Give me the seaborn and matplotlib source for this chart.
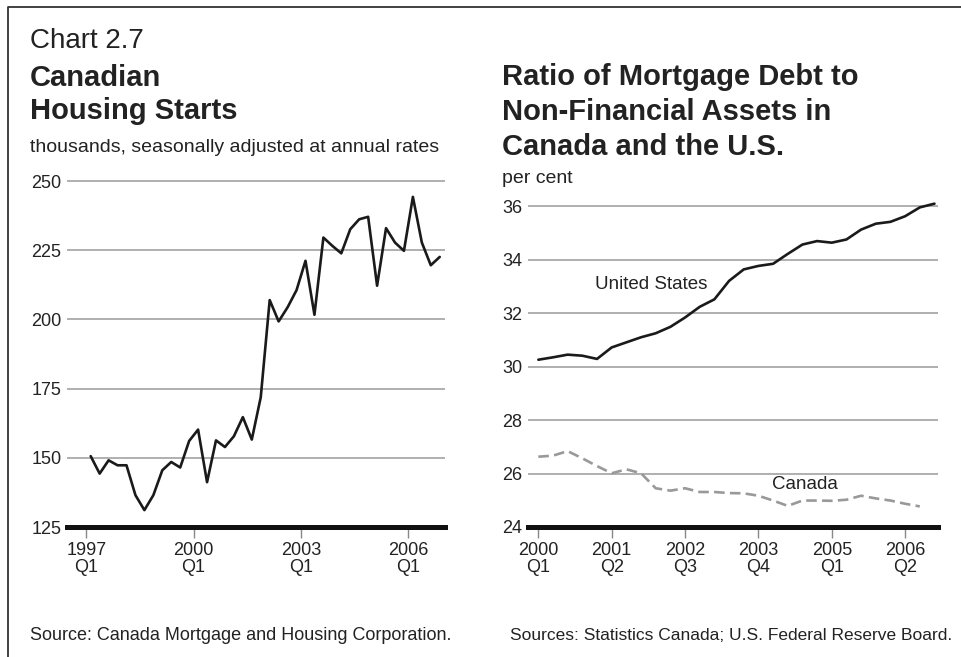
# Chart 2.7: Canadian housing starts and mortgage debt ratio
import pandas as pd
import seaborn as sns
import matplotlib.pyplot as plt
from matplotlib.lines import Line2D

# housing starts, thousands (quarterly, 1997Q1 - 2006Q4)
housing_starts = [150.6, 144.3, 149.1, 147.3, 147.3, 136.5, 131.1, 136.5, 145.5, 148.5,
                  146.5, 156.1, 160.2, 141.2, 156.3, 153.9, 157.8, 164.7, 156.6, 171.9,
                  207.0, 199.3, 204.4, 210.6, 221.2, 201.7, 229.6, 226.6, 223.9, 232.6,
                  236.2, 237.1, 212.2, 233.0, 227.8, 224.8, 244.3, 227.8, 219.6, 222.6]

# mortgage debt / non-financial assets, per cent (quarterly from 2000Q1)
us_ratio = [30.26, 30.35, 30.45, 30.41, 30.29, 30.72, 30.91, 31.10, 31.25, 31.49,
            31.84, 32.24, 32.52, 33.21, 33.64, 33.77, 33.85, 34.22, 34.57, 34.70,
            34.64, 34.76, 35.13, 35.35, 35.42, 35.63, 35.96, 36.10]
canada_ratio = [26.63, 26.67, 26.84, 26.57, 26.28, 26.01, 26.16, 26.01, 25.45, 25.36,
                25.45, 25.31, 25.31, 25.27, 25.26, 25.17, 24.99, 24.79, 24.99, 24.99,
                24.98, 25.02, 25.17, 25.07, 24.99, 24.87, 24.77]

left_ticks = [1997, 2000, 2003, 2006]
left_ticklabels = ['1997\nQ1', '2000\nQ1', '2003\nQ1', '2006\nQ1']
right_ticks = [2000.0, 2001.25, 2002.5, 2003.75, 2005.0, 2006.25]
right_ticklabels = ['2000\nQ1', '2001\nQ2', '2002\nQ3', '2003\nQ4', '2005\nQ1', '2006\nQ2']

# build dataframes (x = year + quarter fraction)
hs = pd.DataFrame({'q': pd.period_range('1997Q1', periods=len(housing_starts), freq='Q'),
                   'value': housing_starts})
hs['x'] = hs['q'].dt.year + (hs['q'].dt.quarter - 0.5) / 4

us = pd.DataFrame({'q': pd.period_range('2000Q1', periods=len(us_ratio), freq='Q'),
                   'value': us_ratio})
us['x'] = us['q'].dt.year + (us['q'].dt.quarter - 1) / 4
ca = pd.DataFrame({'q': pd.period_range('2000Q1', periods=len(canada_ratio), freq='Q'),
                   'value': canada_ratio})
ca['x'] = ca['q'].dt.year + (ca['q'].dt.quarter - 1) / 4

sns.set_style('white')
plt.rcParams['font.family'] = ['Liberation Sans', 'DejaVu Sans']
txt = '#222222'
grid_col = '#9a9a9a'

W, H = 961, 657
fig = plt.figure(figsize=(W / 100, H / 100), dpi=100)


def style_axes(ax):
    for s in ['top', 'right', 'left']:
        ax.spines[s].set_visible(False)
    ax.spines['bottom'].set_linewidth(3.6)
    ax.spines['bottom'].set_color('#111111')
    ax.spines['bottom'].set_zorder(5)
    ax.yaxis.grid(True, color=grid_col, linewidth=1.1)
    ax.xaxis.grid(False)
    ax.tick_params(axis='y', length=0, pad=4, labelsize=13, labelcolor=txt)
    ax.tick_params(axis='x', length=8, width=1, color='#888888', direction='out',
                   pad=3, labelsize=13, labelcolor=txt, bottom=True)
    for lab in ax.get_xticklabels():
        lab.set_linespacing(1.0)
    ax.set_xlabel('')
    ax.set_ylabel('')


# left panel: housing starts
ax1 = fig.add_axes([67 / W, 1 - 527 / H, 378 / W, 347 / H])
sns.lineplot(data=hs, x='x', y='value', ax=ax1, color='#1a1a1a', linewidth=1.9)
ax1.set_xlim(1996.463, 2007.022)
ax1.set_ylim(125, 250.4)
ax1.set_yticks([125, 150, 175, 200, 225, 250])
ax1.set_xticks(left_ticks)
ax1.set_xticklabels(left_ticklabels)
style_axes(ax1)

# right panel: mortgage debt ratio
ax2 = fig.add_axes([528 / W, 1 - 527 / H, 410 / W, 322 / H])
sns.lineplot(data=us, x='x', y='value', ax=ax2, color='#1a1a1a', linewidth=1.9)
ax2.lines[-1].set_clip_on(False)
sns.lineplot(data=ca, x='x', y='value', ax=ax2, color='#999999', linewidth=1.9)
ax2.lines[-1].set_dashes((4, 2))
ax2.set_xlim(1999.824, 2006.81)
ax2.set_ylim(24, 36.05)
ax2.set_yticks([24, 26, 28, 30, 32, 34, 36])
ax2.set_xticks(right_ticks)
ax2.set_xticklabels(right_ticklabels)
style_axes(ax2)
ax2.text(2001.92, 33.06, 'United States', ha='center', va='center', fontsize=13.5, color=txt)
ax2.text(2004.55, 25.58, 'Canada', ha='center', va='center', fontsize=13.5, color=txt)

# titles and notes
fig.text(30 / W, 1 - 48 / H, 'Chart 2.7', fontsize=20, color=txt, va='baseline')
fig.text(30 / W, 1 - 86 / H, 'Canadian', fontsize=21, fontweight='bold', color=txt, va='baseline')
fig.text(30 / W, 1 - 119 / H, 'Housing Starts', fontsize=21, fontweight='bold', color=txt, va='baseline')
fig.text(30 / W, 1 - 152 / H, 'thousands, seasonally adjusted at annual rates', fontsize=14,
         color=txt, va='baseline')

fig.text(502 / W, 1 - 85 / H, 'Ratio of Mortgage Debt to', fontsize=21, fontweight='bold',
         color=txt, va='baseline')
fig.text(502 / W, 1 - 120 / H, 'Non-Financial Assets in', fontsize=21, fontweight='bold',
         color=txt, va='baseline')
fig.text(502 / W, 1 - 155 / H, 'Canada and the U.S.', fontsize=21, fontweight='bold',
         color=txt, va='baseline')
fig.text(502 / W, 1 - 183 / H, 'per cent', fontsize=14, color=txt, va='baseline')

fig.text(30 / W, 1 - 640 / H, 'Source: Canada Mortgage and Housing Corporation.', fontsize=13,
         color=txt, va='baseline')
fig.text(510 / W, 1 - 640 / H, 'Sources: Statistics Canada; U.S. Federal Reserve Board.',
         fontsize=12.5, color=txt, va='baseline')

# frame along left and top
fig.add_artist(Line2D([8 / W, 8 / W, 1], [0, 1 - 7 / H, 1 - 7 / H], color='#333333',
                      linewidth=1.3, transform=fig.transFigure))

fig.savefig('out.png', dpi=100)
